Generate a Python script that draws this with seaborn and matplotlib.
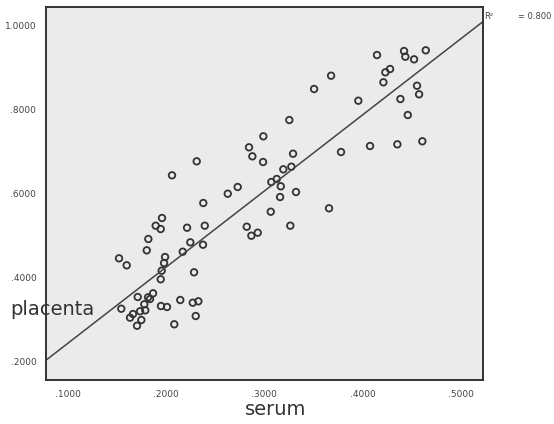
import matplotlib
matplotlib.use("Agg")
import matplotlib.pyplot as plt
import seaborn as sns
import pandas as pd


serum = [0.1522, 0.1600, 0.1545, 0.1634, 0.1664, 0.1705, 0.1712, 0.1736, 0.1749, 0.1779,
         0.1789, 0.1804, 0.1820, 0.1817, 0.1837, 0.1868, 0.1895, 0.1946, 0.1959, 0.1990,
         0.1980, 0.1956, 0.1946, 0.1949, 0.2010, 0.2061, 0.2084, 0.2145, 0.2170, 0.2214,
         0.2247, 0.2272, 0.2285, 0.2302, 0.2312, 0.2329, 0.2376, 0.2379, 0.2394, 0.2628,
         0.2729, 0.2821, 0.2844, 0.2868, 0.2878, 0.2933, 0.2987, 0.2990, 0.3065, 0.3071,
         0.3126, 0.3160, 0.3167, 0.3193, 0.3254, 0.3264, 0.3275, 0.3292, 0.3322, 0.3506,
         0.3658, 0.3679, 0.3780, 0.3956, 0.4075, 0.4146, 0.4211, 0.4231, 0.4279, 0.4353,
         0.4384, 0.4421, 0.4434, 0.4459, 0.4523, 0.4553, 0.4574, 0.4607, 0.4642]
placenta = [0.4458, 0.4292, 0.3261, 0.3048, 0.3135, 0.2857, 0.3539, 0.3200, 0.2993, 0.3366,
            0.3223, 0.4648, 0.4917, 0.3532, 0.3492, 0.3627, 0.5233, 0.5154, 0.5416, 0.4489,
            0.4347, 0.4164, 0.3960, 0.3325, 0.3302, 0.6430, 0.2891, 0.3468, 0.4615, 0.5185,
            0.4838, 0.3404, 0.4126, 0.3088, 0.6762, 0.3437, 0.4781, 0.5772, 0.5233, 0.5993,
            0.6152, 0.5209, 0.7095, 0.4995, 0.6881, 0.5067, 0.6746, 0.7356, 0.5565, 0.6271,
            0.6342, 0.5914, 0.6169, 0.6572, 0.7743, 0.5233, 0.6634, 0.6943, 0.6033, 0.8480,
            0.5646, 0.8796, 0.6983, 0.8202, 0.7126, 0.9287, 0.8639, 0.8876, 0.8955, 0.7166,
            0.8242, 0.9382, 0.9247, 0.7862, 0.9185, 0.8558, 0.8354, 0.7238, 0.9399]

x_ticks = [0.1, 0.2, 0.3, 0.4, 0.5]
y_ticks = [0.2, 0.4, 0.6, 0.8, 1.0]
r2_text = "= 0.800"

df = pd.DataFrame({"serum": serum, "placenta": placenta})

sns.set_style("white")
plt.rcParams['font.family'] = ['DejaVu Sans']

fig = plt.figure(figsize=(5.54, 4.24), dpi=100)
ax = fig.add_axes([0.083, 0.1038, 0.789, 0.8797])
ax.set_facecolor("#ebebeb")
ax.set_xlim(0.0779, 0.5225)
ax.set_ylim(0.1568, 1.0428)

sns.scatterplot(data=df, x="serum", y="placenta", ax=ax, marker="o",
                facecolor="none", edgecolor="#333333", linewidth=1.3, s=22)
sns.regplot(data=df, x="serum", y="placenta", ax=ax, scatter=False, ci=None,
            truncate=False, line_kws={"color": "#444444", "linewidth": 1.1})
ax.set_xlim(0.0779, 0.5225)
ax.set_ylim(0.1568, 1.0428)

ax.set_xticks(x_ticks)
ax.set_yticks(y_ticks)
ax.set_xticklabels(["." + f"{v:.4f}".split(".")[1] for v in x_ticks], fontsize=6.5, color="#444444")
ax.set_yticklabels([f"{v:.4f}" if v >= 1 else "." + f"{v:.4f}".split(".")[1] for v in y_ticks],
                   fontsize=6.5, color="#444444")
ax.tick_params(axis="both", direction="out", length=5, width=1.2, color="#333333", pad=2)

for side in ["left", "bottom", "top", "right"]:
    ax.spines[side].set_color("#333333")
    ax.spines[side].set_linewidth(1.4)

ax.set_xlabel("serum", fontsize=14, color="#333333", va="center")
ax.xaxis.set_label_coords(0.526, -0.08)
ax.set_ylabel("placenta", fontsize=14, color="#333333", rotation=0, ha="left", va="center")
ax.yaxis.set_label_coords(-0.082, 0.188)

ax.text(1.003, 0.975, "R²", transform=ax.transAxes, fontsize=6, color="#444444", va="center")
ax.text(1.08, 0.975, r2_text, transform=ax.transAxes, fontsize=6, color="#444444", va="center")

plt.savefig("out.png", dpi=100)
